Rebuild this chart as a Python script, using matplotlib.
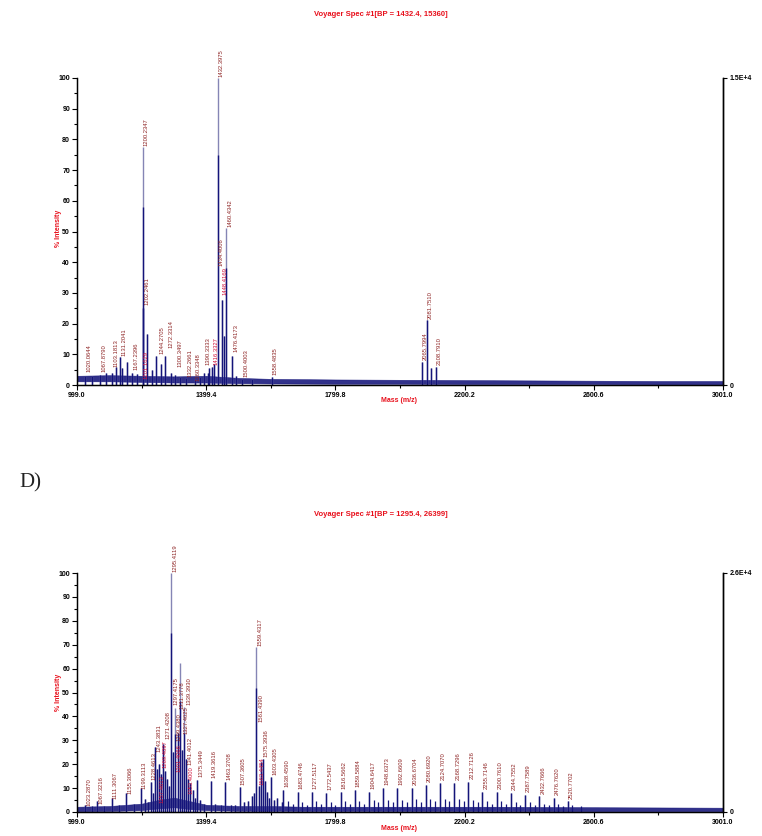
import matplotlib
matplotlib.use('Agg')
import matplotlib.pyplot as plt
from matplotlib.ticker import MultipleLocator, FixedLocator

# ---------------- top spectrum ----------------
top_noise_mz = [999, 1100, 1200, 1300, 1400, 1500, 1600, 1800, 2000, 2200, 2400, 2600, 2800, 3001]
top_noise_lo = [1.2, 1.2, 1.0, 0.8, 0.8, 0.6, 0.5, 0.4, 0.4, 0.3, 0.3, 0.3, 0.2, 0.2]
top_noise_hi = [3.0, 3.2, 3.0, 2.8, 3.0, 2.3, 2.0, 1.8, 1.7, 1.6, 1.5, 1.4, 1.3, 1.3]

top_peak_mz = [1024, 1045, 1071, 1090, 1106, 1119, 1133, 1140, 1155, 1170, 1186, 1202, 1204,
               1215, 1231, 1245, 1260, 1273, 1289, 1302, 1318, 1337, 1364, 1380, 1394, 1404,
               1409, 1418, 1425, 1435, 1448, 1455, 1462, 1478, 1492, 1511, 1540, 1602,
               2068, 2083, 2097, 2111]
top_peak_int = [3, 2.8, 3.2, 4, 4, 6, 9, 5.5, 7.6, 4, 3.7, 77.5, 25,
                16.5, 5, 9.4, 7, 9.6, 4, 3.3, 2.5, 2.2, 2, 2.5, 4, 4,
                5.5, 6, 7, 100, 27.7, 16, 51, 9.6, 3, 2, 1.8, 2.5,
                7.6, 21.2, 5.4, 6]

top_lbl_mz = [1024, 1071, 1109, 1135, 1171, 1202, 1204, 1203, 1250, 1279, 1306, 1337, 1364,
              1394, 1418, 1435, 1435, 1446, 1461, 1480, 1511, 1602, 2067, 2082, 2111]
top_lbl_h = [3.8, 3.8, 5.4, 9, 4.3, 77.5, 25.5, 1.5, 9.8, 11.6, 5.4, 2.2, 0.7,
             6, 6, 100, 38.3, 28.8, 51, 10.3, 2.2, 2.7, 7.6, 21.2, 6]
top_lbl_txt = ['1020.0644', '1067.8790', '1103.1813', '1131.2041', '1167.2396', '1200.2347',
               '1202.2461', '1201.1629', '1244.2705', '1272.3314', '1300.3497', '1332.2661',
               '1360.3348', '1390.3333', '1416.3327', '1432.3975', '1434.4006', '1448.4169',
               '1460.4342', '1476.4173', '1500.4003', '1558.4835', '2065.7994', '2081.7510',
               '2108.7910']
top_lbl_hot = ['1201.1629', '1416.3327', '1448.4169']

# ---------------- bottom spectrum ----------------
bot_noise_mz = [999, 1100, 1200, 1250, 1300, 1350, 1400, 1500, 1600, 1700, 2000, 2300, 2600, 3001]
bot_noise_lo = [0.3, 0.4, 0.8, 1.5, 2.0, 1.2, 0.8, 0.5, 0.5, 0.4, 0.4, 0.4, 0.3, 0.3]
bot_noise_hi = [2.2, 2.5, 3.5, 5.0, 6.0, 4.5, 3.0, 2.5, 2.5, 2.2, 2.2, 2.2, 2.0, 1.8]

bot_peak_mz = [1025, 1045, 1062, 1083, 1106, 1128, 1152, 1175, 1197, 1210, 1219, 1227, 1234,
               1240, 1247, 1254, 1260, 1266, 1272, 1278, 1284, 1291, 1297, 1304, 1311, 1318,
               1324, 1331, 1337, 1344, 1350, 1357, 1364, 1371, 1380, 1392, 1414, 1428, 1445,
               1458, 1475, 1489, 1503, 1518, 1530, 1541, 1549, 1555, 1562, 1568, 1575, 1582,
               1588, 1595, 1601, 1610, 1620, 1633,
               1638, 1683, 1727, 1772, 1816, 1859, 1904, 1948, 1992, 2036, 2080, 2124, 2168,
               2212, 2255, 2300, 2344, 2387, 2432, 2476, 2520]
bot_peak_int = [3, 2.5, 4.7, 2.5, 6, 3, 8, 3.5, 10, 5.5, 4, 12.5, 8,
                27, 18, 20, 16, 28.3, 17, 14, 11, 100, 25, 43.4, 33, 62.2,
                26, 44, 22, 14, 12, 9, 6, 13.4, 5, 3.5, 13, 3.5, 3,
                12.5, 3, 3, 10.5, 4, 4.5, 6.5, 8, 69, 11, 21, 22, 13,
                8.5, 6, 14.5, 5, 6, 4,
                9, 8.5, 8.5, 8, 8.5, 9, 8.5, 10, 10, 10, 11.5, 12, 12,
                12.5, 8.5, 8.5, 8, 7, 6.5, 6, 4.5]

bot_minor_mz = [1652, 1667, 1697, 1712, 1741, 1756, 1786, 1800, 1830, 1845, 1874, 1889, 1918, 1933,
                1962, 1977, 2006, 2021, 2050, 2065, 2094, 2109, 2138, 2153, 2182, 2197, 2226, 2241,
                2270, 2285, 2314, 2329, 2358, 2373, 2402, 2417, 2446, 2461, 2490, 2505, 2534, 2560]
bot_minor_int = [4.5, 3.5, 4, 3, 4.5, 3.5, 4, 3, 4.5, 3.5, 4.5, 3.5, 5, 4,
                 5, 4, 5, 4, 5.5, 4, 5.5, 4.5, 5.5, 4.5, 5.5, 4.5, 5, 4,
                 4.5, 3.5, 4.5, 3.5, 4, 3, 4, 3, 3.5, 3, 3.5, 2.5, 3, 2.5]

bot_lbl_mz = [1025, 1062, 1106, 1152, 1197, 1227, 1241, 1252, 1262, 1271, 1291, 1296, 1303, 1304,
              1313, 1326, 1335, 1338, 1342, 1371, 1414, 1458, 1503, 1555, 1557, 1560, 1575, 1601,
              1638, 1683, 1727, 1772, 1816, 1859, 1904, 1948, 1992, 2036, 2080, 2124, 2168,
              2212, 2255, 2300, 2344, 2387, 2432, 2476, 2520]
bot_lbl_h = [2, 2.9, 4.7, 7.1, 9.2, 12.7, 24.5, 3, 18, 30, 100, 44, 29, 16,
             42.7, 32, 44, 19, 7, 14, 13.5, 13, 10.6, 69, 37, 10.6, 22.5, 14.8,
             9.9, 9.2, 9.2, 8.5, 9.2, 9.9, 9.2, 10.6, 10.6, 10.6, 12, 12.7, 12.7,
             13.4, 9.2, 9.2, 8.5, 7.8, 7.1, 6.4, 5]
bot_lbl_txt = ['1023.2870', '1067.3216', '1111.3067', '1155.3066', '1199.3113', '1228.4613',
               '1243.3831', '1257.4613', '1269.4097', '1271.4208', '1295.4119', '1297.4175',
               '1299.4380', '1301.4066', '1311.3778', '1327.4025', '1339.3930', '1341.4012',
               '1353.4000', '1375.3449', '1419.3616', '1463.3708', '1507.3605', '1559.4317',
               '1561.4390', '1563.4454', '1575.3936', '1603.4305', '1638.4590', '1683.4746',
               '1727.5117', '1772.5437', '1816.5662', '1859.5884', '1904.6417', '1948.6373',
               '1992.6609', '2036.6704', '2080.6920', '2124.7070', '2168.7296', '2212.7126',
               '2255.7146', '2300.7610', '2344.7552', '2387.7589', '2432.7666', '2476.7620',
               '2520.7702']
bot_lbl_hot = ['1257.4613', '1269.4097', '1301.4066', '1353.4000', '1563.4454']

x_major = [999.0, 1399.4, 1799.8, 2200.2, 2600.6, 3001.0]
x_minor = [1199.2, 1599.6, 2000.0, 2400.4, 2800.8]

NAVY = '#14147a'
LIGHT = '#8585b5'
LBL = '#8e2424'
HOT = '#d0103a'
RED = '#e8101c'

W, H = 762, 836
plt.rcParams['font.family'] = ['Liberation Sans', 'DejaVu Sans']


def rect(x0, y0, x1, y1):
    # pixel box -> figure fraction
    return [x0 / W, 1 - y1 / H, (x1 - x0) / W, (y1 - y0) / H]


def draw_spectrum(ax, noise_mz, noise_lo, noise_hi, peak_mz, peak_int,
                  lbl_mz, lbl_h, lbl_txt, lbl_hot, bp_counts, bp_label,
                  minor_mz=None, minor_int=None):
    ax.fill_between(noise_mz, noise_lo, noise_hi, color=NAVY, lw=0.4, alpha=0.88)
    ax.vlines(peak_mz, 0, peak_int, color=LIGHT, lw=1.0)
    dark = [h * 0.75 if h > 40 else h for h in peak_int]
    ax.vlines(peak_mz, 0, dark, color=NAVY, lw=1.0)
    if minor_mz is not None:
        ax.vlines(minor_mz, 0, minor_int, color=NAVY, lw=0.9)

    for m, h, t in zip(lbl_mz, lbl_h, lbl_txt):
        ax.annotate(t, (m, h), xytext=(2.6, 1), textcoords='offset points',
                    rotation=90, ha='center', va='bottom', fontsize=4.2,
                    color=HOT if t in lbl_hot else LBL)

    ax.set_xlim(999, 3001)
    ax.set_ylim(0, 100)
    ax.spines['top'].set_visible(False)
    for s in ['left', 'bottom', 'right']:
        ax.spines[s].set_linewidth(1.0)
    ax.xaxis.set_major_locator(FixedLocator(x_major))
    ax.xaxis.set_minor_locator(FixedLocator(x_minor))
    ax.set_xticklabels(['%.1f' % v for v in x_major])
    ax.yaxis.set_major_locator(MultipleLocator(10))
    ax.yaxis.set_minor_locator(MultipleLocator(5))
    ax.tick_params(axis='both', which='major', length=3.5, width=0.8, labelsize=5, pad=1.5)
    ax.tick_params(axis='both', which='minor', length=2, width=0.8)
    for lab in ax.get_xticklabels() + ax.get_yticklabels():
        lab.set_fontweight('bold')

    ax2 = ax.twinx()
    ax2.set_ylim(0, bp_counts)
    ax2.set_yticks([0, bp_counts])
    ax2.set_yticklabels(['0', bp_label], fontsize=5, fontweight='bold')
    ax2.tick_params(axis='y', length=3, width=0.8, pad=1.5)
    ax2.spines['top'].set_visible(False)
    ax2.spines['right'].set_linewidth(1.0)


fig = plt.figure(figsize=(W / 100, H / 100), dpi=100)

ax_top = fig.add_axes(rect(77, 78, 723, 385))
draw_spectrum(ax_top, top_noise_mz, top_noise_lo, top_noise_hi, top_peak_mz, top_peak_int,
              top_lbl_mz, top_lbl_h, top_lbl_txt, top_lbl_hot, 15360, '1.5E+4')

ax_bot = fig.add_axes(rect(77, 573, 723, 812))
draw_spectrum(ax_bot, bot_noise_mz, bot_noise_lo, bot_noise_hi, bot_peak_mz, bot_peak_int,
              bot_lbl_mz, bot_lbl_h, bot_lbl_txt, bot_lbl_hot, 26399, '2.6E+4',
              bot_minor_mz, bot_minor_int)

# titles and axis names
fig.text(381 / W, 1 - 14 / H, 'Voyager Spec #1[BP = 1432.4, 15360]', ha='center', va='center',
         color=RED, fontsize=5.5, fontweight='bold')
fig.text(381 / W, 1 - 514 / H, 'Voyager Spec #1[BP = 1295.4, 26399]', ha='center', va='center',
         color=RED, fontsize=5.5, fontweight='bold')
fig.text(399 / W, 1 - 401 / H, 'Mass (m/z)', ha='center', va='center', color=RED,
         fontsize=5, fontweight='bold')
fig.text(399 / W, 1 - 829 / H, 'Mass (m/z)', ha='center', va='center', color=RED,
         fontsize=5, fontweight='bold')
fig.text(58 / W, 1 - 228 / H, '% Intensity', ha='center', va='center', rotation=90,
         color=RED, fontsize=5, fontweight='bold')
fig.text(58 / W, 1 - 692 / H, '% Intensity', ha='center', va='center', rotation=90,
         color=RED, fontsize=5, fontweight='bold')

fig.text(19 / W, 1 - 483 / H, 'D)', ha='left', va='center', fontsize=15,
         family=['Liberation Serif', 'DejaVu Serif'], color='#222222')

fig.savefig('out.png', dpi=100)
